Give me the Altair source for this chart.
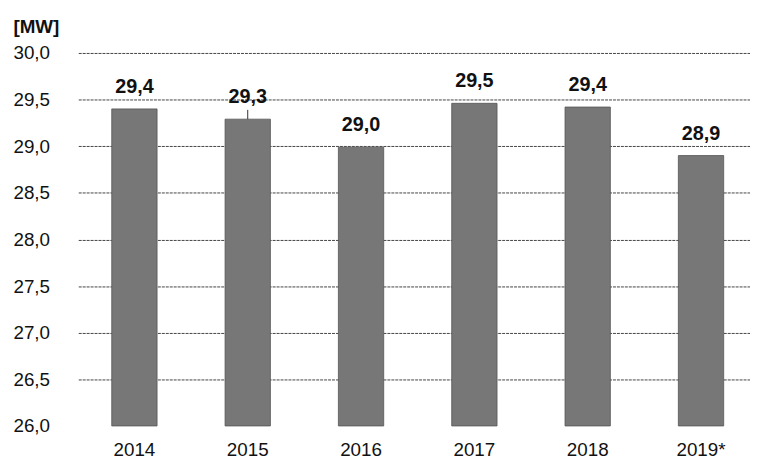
import altair as alt
import pandas as pd

years = ["2014", "2015", "2016", "2017", "2018", "2019*"]
values = [29.40, 29.29, 28.99, 29.46, 29.42, 28.90]
y_ticks = [26.0, 26.5, 27.0, 27.5, 28.0, 28.5, 29.0, 29.5, 30.0]
leader_years = ["2015"]

df = pd.DataFrame({"year": years, "value": values})
df["label"] = [f"{v:.1f}".replace(".", ",") for v in values]
df["base"] = y_ticks[0]

lead = df[df["year"].isin(leader_years)].copy()
lead["top"] = lead["value"] + 0.1

FONT = "Liberation Sans"
NARROW = "'Liberation Sans Narrow', 'Arial Narrow', 'Liberation Sans', sans-serif"

x_enc = alt.X(
    "year:N",
    sort=years,
    title=None,
    scale=alt.Scale(paddingInner=0.6, paddingOuter=0.264, align=0.56),
    axis=alt.Axis(
        labelAngle=0,
        labelFontSize=19,
        labelFont=NARROW,
        labelColor="#111",
        labelPadding=15,
        ticks=False,
        domain=False,
        grid=False,
    ),
)

y_scale = alt.Scale(domain=[y_ticks[0], y_ticks[-1]], zero=False, nice=False)

bars = alt.Chart(df).mark_bar(color="#777777", stroke="#555555", strokeWidth=0.8).encode(
    x=x_enc,
    y=alt.Y(
        "value:Q",
        scale=y_scale,
        title="[MW]",
        axis=alt.Axis(
            values=y_ticks,
            labelExpr="replace(format(datum.value, '.1f'), '.', ',')",
            labelFontSize=19,
            labelFont=NARROW,
            labelColor="#111",
            labelPadding=29,
            ticks=False,
            domain=False,
            grid=True,
            gridColor="#444",
            gridWidth=1,
            gridDash=[3, 1],
            gridOpacity={"condition": {"test": "datum.value === 26", "value": 0}, "value": 1},
            titleAngle=0,
            titleX=-66,
            titleY=-21,
            titleAlign="left",
            titleBaseline="alphabetic",
            titleFont=NARROW,
            titleFontSize=19,
            titleFontWeight="bold",
            titleColor="#111",
        ),
    ),
    y2=alt.Y2("base:Q"),
)

labels = alt.Chart(df).mark_text(
    font=FONT, fontSize=20, fontWeight="bold", color="#111", baseline="alphabetic", dy=-16
).encode(
    x=alt.X("year:N", sort=years),
    y=alt.Y("value:Q", scale=y_scale),
    text="label:N",
)

leader = alt.Chart(lead).mark_rule(color="#333", strokeWidth=1).encode(
    x=alt.X("year:N", sort=years),
    y=alt.Y("value:Q", scale=y_scale),
    y2="top:Q",
)

chart = (
    alt.layer(bars, labels, leader)
    .properties(
        width=679,
        height=377,
        padding={"left": 71, "top": 43, "right": 0, "bottom": 35},
        autosize=alt.AutoSizeParams(type="none"),
        background="white",
    )
    .configure_view(stroke=None)
)

chart.save("out.html", embed_options={"renderer": "svg", "actions": False})
